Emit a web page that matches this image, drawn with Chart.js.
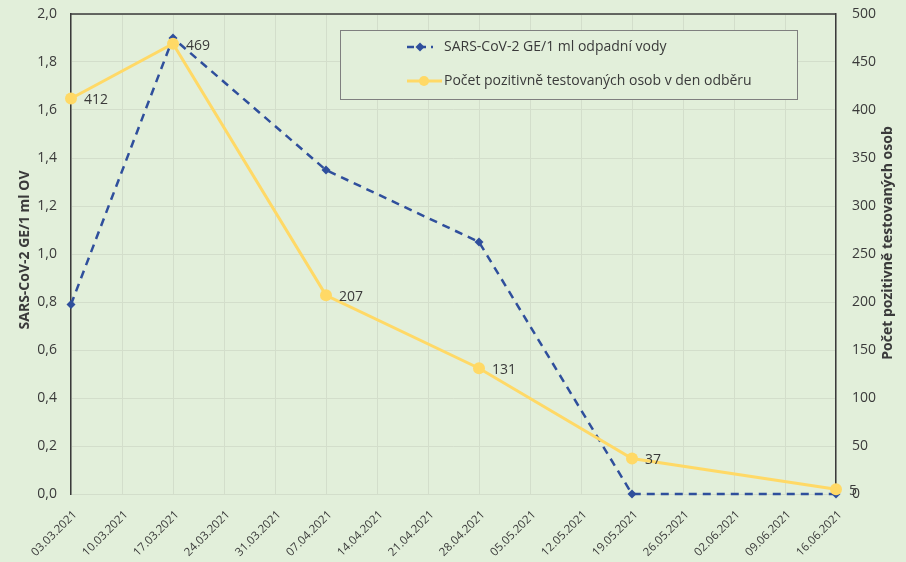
<!DOCTYPE html>
<html>
<head>
<meta charset="utf-8">
<script src="https://cdn.jsdelivr.net/npm/chart.js@4.4.1/dist/chart.umd.min.js"></script>
<style>
  html, body { margin: 0; padding: 0; background: #e2efda; }
  #wrap { width: 906px; height: 562px; }
</style>
</head>
<body>
<div id="wrap"><canvas id="c" width="906" height="562"></canvas></div>
<script>
// Sampling dates and measured values
const sampleDates = ['03.03.2021', '17.03.2021', '07.04.2021', '28.04.2021', '19.05.2021', '16.06.2021'];
const virusGE = [0.79, 1.90, 1.35, 1.05, 0.0, 0.0];
const positiveCases = [412, 469, 207, 131, 37, 5];
const seriesNames = ['SARS-CoV-2 GE/1 ml odpadní vody', 'Počet pozitivně testovaných osob v den odběru'];
const leftTitle = 'SARS-CoV-2 GE/1 ml OV';
const rightTitle = 'Počet pozitivně testovaných osob';
const startDate = '03.03.2021';
const endDate = '16.06.2021';

const BG = '#e2efda';
const GRID = '#d3decb';
const TEXT = '#3a3a3a';
const BLUE = '#2f4f9c';
const YELLOW = '#ffd966';
const FONT = '"Open Sans", "DejaVu Sans", sans-serif';

function parseDate(s) {
  const [d, m, y] = s.split('.').map(Number);
  return Date.UTC(y, m - 1, d);
}
const DAY = 86400000;
const t0 = parseDate(startDate);
const dayOf = s => Math.round((parseDate(s) - t0) / DAY);
const lastDay = dayOf(endDate);
function fmtDay(n) {
  const d = new Date(t0 + n * DAY);
  const p = v => String(v).padStart(2, '0');
  return p(d.getUTCDate()) + '.' + p(d.getUTCMonth() + 1) + '.' + d.getUTCFullYear();
}

const virusPoints = sampleDates.map((s, i) => ({ x: dayOf(s), y: virusGE[i] }));
const casePoints = sampleDates.map((s, i) => ({ x: dayOf(s), y: positiveCases[i] }));

// vertical axes keep no extra padding so the plot spans a fixed box
function fixVertical(width) {
  return scale => {
    scale.width = width;
    scale.paddingTop = 0;
    scale.paddingBottom = 0;
  };
}

// Frame, axis titles, value labels and boxed legend
const decorations = {
  id: 'decorations',
  beforeDraw(chart) {
    const ctx = chart.ctx;
    ctx.save();
    ctx.fillStyle = BG;
    ctx.fillRect(0, 0, chart.width, chart.height);
    ctx.restore();
  },
  afterDatasetsDraw(chart) {
    const ctx = chart.ctx;
    const a = chart.chartArea;
    ctx.save();
    // top frame line
    ctx.strokeStyle = '#3a3a3a';
    ctx.lineWidth = 1.5;
    ctx.beginPath();
    ctx.moveTo(a.left, a.top);
    ctx.lineTo(a.right, a.top);
    ctx.stroke();

    // value labels of the case series
    ctx.fillStyle = TEXT;
    ctx.font = '14px ' + FONT;
    ctx.textAlign = 'left';
    ctx.textBaseline = 'middle';
    const meta = chart.getDatasetMeta(1);
    meta.data.forEach((pt, i) => {
      ctx.fillText(String(positiveCases[i]), pt.x + 13, pt.y + 2);
    });

    // axis titles
    ctx.font = 'bold 14px ' + FONT;
    ctx.textAlign = 'center';
    ctx.textBaseline = 'middle';
    ctx.save();
    ctx.translate(25, 250);
    ctx.rotate(-Math.PI / 2);
    ctx.fillText(leftTitle, 0, 0);
    ctx.restore();
    ctx.save();
    ctx.translate(888, 243);
    ctx.rotate(-Math.PI / 2);
    ctx.fillText(rightTitle, 0, 0);
    ctx.restore();

    // legend box
    const lx = 340, ly = 30, lw = 457, lh = 69;
    ctx.fillStyle = BG;
    ctx.fillRect(lx, ly, lw, lh);
    ctx.strokeStyle = '#7f7f7f';
    ctx.lineWidth = 1;
    ctx.strokeRect(lx + 0.5, ly + 0.5, lw, lh);

    // entry 1: dashed blue with diamond
    const y1 = 47, y2 = 81;
    ctx.strokeStyle = BLUE;
    ctx.lineWidth = 2.5;
    ctx.setLineDash([7, 5]);
    ctx.beginPath();
    ctx.moveTo(407, y1);
    ctx.lineTo(433, y1);
    ctx.stroke();
    ctx.setLineDash([]);
    ctx.fillStyle = BLUE;
    ctx.beginPath();
    ctx.moveTo(420, y1 - 4.5);
    ctx.lineTo(424.5, y1);
    ctx.lineTo(420, y1 + 4.5);
    ctx.lineTo(415.5, y1);
    ctx.closePath();
    ctx.fill();

    // entry 2: yellow with dot
    ctx.strokeStyle = YELLOW;
    ctx.lineWidth = 3;
    ctx.beginPath();
    ctx.moveTo(407, y2);
    ctx.lineTo(442, y2);
    ctx.stroke();
    ctx.fillStyle = YELLOW;
    ctx.beginPath();
    ctx.arc(424, y2, 5, 0, Math.PI * 2);
    ctx.fill();

    ctx.fillStyle = TEXT;
    ctx.font = '14px ' + FONT;
    ctx.textAlign = 'left';
    ctx.textBaseline = 'middle';
    ctx.fillText(seriesNames[0], 444, y1);
    ctx.fillText(seriesNames[1], 444, y2);
    ctx.restore();
  }
};

new Chart(document.getElementById('c'), {
  type: 'line',
  data: {
    datasets: [
      {
        label: seriesNames[0],
        data: virusPoints,
        yAxisID: 'y',
        borderColor: BLUE,
        backgroundColor: BLUE,
        borderWidth: 2.5,
        borderDash: [8, 6],
        pointStyle: 'rectRot',
        pointRadius: 4.5,
        pointBorderWidth: 0,
        pointHoverRadius: 4.5,
        tension: 0,
        clip: false,
        order: 1
      },
      {
        label: seriesNames[1],
        data: casePoints,
        yAxisID: 'y1',
        borderColor: YELLOW,
        backgroundColor: YELLOW,
        borderWidth: 3,
        pointStyle: 'circle',
        pointRadius: 6,
        pointBorderWidth: 0,
        pointHoverRadius: 6,
        tension: 0,
        clip: false,
        order: 0
      }
    ]
  },
  options: {
    responsive: false,
    animation: false,
    events: [],
    layout: { padding: { top: 14, left: 0, right: 0, bottom: 0 } },
    plugins: {
      legend: { display: false },
      tooltip: { enabled: false }
    },
    scales: {
      x: {
        type: 'linear',
        min: 0,
        max: lastDay,
        afterBuildTicks(scale) {
          const t = [];
          for (let d = 0; d <= lastDay; d += 7) t.push({ value: d });
          scale.ticks = t;
        },
        afterFit(scale) { scale.height = 68; },
        grid: { color: GRID, lineWidth: 1, drawTicks: false },
        border: { color: GRID, width: 1 },
        ticks: {
          autoSkip: false,
          maxRotation: 45,
          minRotation: 45,
          padding: 14,
          labelOffset: 4,
          color: TEXT,
          font: { family: FONT, size: 11.5 },
          callback: v => fmtDay(v)
        }
      },
      y: {
        position: 'left',
        min: 0,
        max: 2,
        afterFit: fixVertical(71),
        grid: { color: GRID, lineWidth: 1, drawTicks: false },
        border: { color: '#3a3a3a', width: 1.5 },
        ticks: {
          stepSize: 0.2,
          padding: 14,
          color: TEXT,
          font: { family: FONT, size: 14 },
          callback: v => v.toFixed(1).replace('.', ',')
        }
      },
      y1: {
        position: 'right',
        min: 0,
        max: 500,
        afterFit: fixVertical(70),
        grid: { display: false, drawOnChartArea: false, drawTicks: false },
        border: { color: '#3a3a3a', width: 1.5 },
        ticks: {
          stepSize: 50,
          padding: 16,
          color: TEXT,
          font: { family: FONT, size: 14 }
        }
      }
    }
  },
  plugins: [decorations]
});
</script>
</body>
</html>
